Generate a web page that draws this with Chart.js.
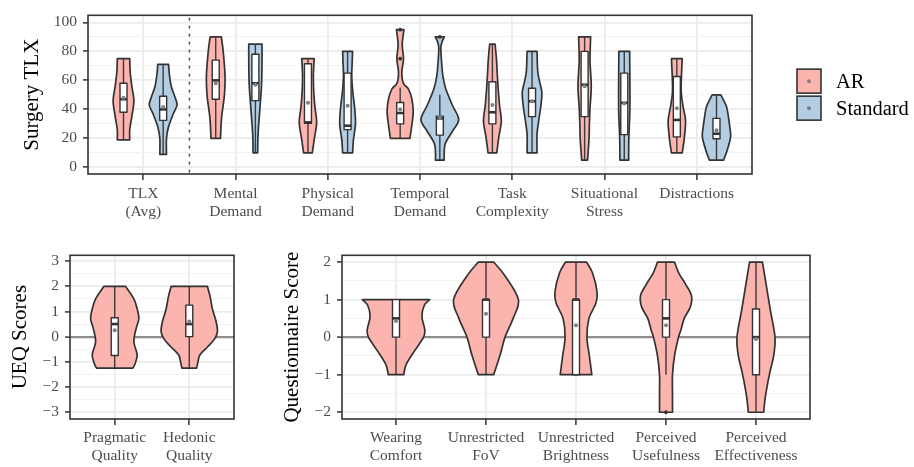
<!DOCTYPE html>
<html>
<head>
<meta charset="utf-8">
<script src="https://cdn.jsdelivr.net/npm/chart.js@4.4.1/dist/chart.umd.min.js"></script>
<style>
  body { margin: 0; background: #fff; width: 914px; height: 467px; position: relative; overflow: hidden; }
  canvas { position: absolute; }
  #tlx { left: 0; top: 0; }
  #ueq { left: 0; top: 240px; }
  #quest { left: 260px; top: 240px; }
</style>
</head>
<body>
<canvas id="tlx" width="914" height="232"></canvas>
<canvas id="ueq" width="250" height="227"></canvas>
<canvas id="quest" width="560" height="227"></canvas>
<script>
// ---------- data ----------
const groups = ["AR", "Standard"];

// Surgery TLX panel
const tlxCategories = [["TLX", "(Avg)"], ["Mental", "Demand"], ["Physical", "Demand"], ["Temporal", "Demand"],
  ["Task", "Complexity"], ["Situational", "Stress"], "Distractions"];
const tlxTicks = [0, 20, 40, 60, 80, 100];
// box stats: [lower whisker, q1, median, q3, upper whisker]
const tlxArBox = [[19, 38, 47, 58, 75], [20, 47, 60, 74, 90], [10, 30.3, 31, 71.5, 75], [20, 30, 37.5, 44.7, 55],
  [10, 30, 38, 59, 85], [5, 35, 57, 80, 90], [10, 21, 32.7, 62.7, 75]];
const tlxStdBox = [[9, 32.4, 40, 49, 71], [10, 46, 58, 78, 85], [10, 26, 28.7, 65, 80], [5, 22.2, 33.8, 35.3, 50],
  [10, 35, 45.6, 54.6, 80], [5, 22.6, 44.5, 65, 80], [5, 19.7, 23.2, 33.8, 50]];
const tlxArMean = [48, 58, 44.5, 40, 43, 56, 40.8];
const tlxStdMean = [41.7, 57, 42.5, 34.5, 45.6, 44, 25.6];
const tlxArOutliers = [[], [], [], [75, 95], [], [], []];
const tlxStdOutliers = [[], [], [], [90], [], [], []];
// violin outlines: [score, relative density]
const tlxArShape = [
  [[19, .30], [26, .30], [35, .40], [46, .50], [56, .40], [66, .32], [75, .30]],
  [[20, .23], [34, .28], [50, .42], [63, .45], [80, .36], [90, .27]],
  [[10, .21], [19, .30], [31, .42], [41, .34], [52, .28], [63, .26], [75, .30]],
  [[20, .47], [30, .57], [38.6, .63], [47.4, .56], [54, .40], [57, .20], [60, .11], [66, .08], [75, .16], [84.6, .10], [95, .18]],
  [[10, .21], [21, .31], [32, .43], [42, .35], [52, .29], [63, .24], [74, .20], [85, .13]],
  [[5, .14], [19, .21], [30, .23], [41, .26], [56, .32], [74, .26], [90, .29]],
  [[10, .26], [19, .35], [32, .42], [42, .30], [52, .21], [62, .22], [75, .26]]
];
const tlxStdShape = [
  [[9, .16], [20, .16], [28, .26], [37, .49], [43, .67], [48, .58], [56, .39], [64, .30], [71, .26]],
  [[10, .11], [23, .13], [41, .22], [55, .29], [63, .31], [75, .32], [85, .32]],
  [[10, .24], [19, .28], [30, .38], [41, .34], [52, .25], [63, .20], [72, .22], [80, .24]],
  [[5, .21], [10, .21], [16.7, .27], [25.4, .63], [33, .91], [43, .60], [54, .29], [62.7, .15], [73.7, .08], [82.5, .05], [86.8, .11], [90, .22]],
  [[10, .24], [23, .24], [32, .32], [43, .43], [52, .47], [60, .35], [67, .27], [80, .24]],
  [[5, .21], [20, .22], [40, .27], [60, .27], [80, .26]],
  [[5, .34], [12, .52], [21, .68], [28, .64], [41, .50], [46, .35], [50, .21]]
];

// UEQ panel
const ueqCategories = [["Pragmatic", "Quality"], ["Hedonic", "Quality"]];
const ueqTicks = [-3, -2, -1, 0, 1, 2, 3];
const ueqBox = [[-1.25, -0.75, 0.5, 0.75, 2], [-1.25, 0, 0.5, 1.25, 2]];
const ueqMean = [0.25, 0.6];
const ueqShape = [
  [[-1.25, .54], [-1.1, .60], [-0.72, .67], [-0.2, .57], [0.33, .64], [0.72, .72], [1.1, .67], [1.5, .57], [2, .32]],
  [[-1.25, .22], [-1.0, .26], [-0.72, .32], [-0.4, .55], [-0.1, .75], [0.2, .84], [0.6, .80], [1.1, .69], [1.6, .62], [2, .54]]
];

// Questionnaire panel
const qCategories = [["Wearing", "Comfort"], ["Unrestricted", "FoV"], ["Unrestricted", "Brightness"],
  ["Perceived", "Usefulness"], ["Perceived", "Effectiveness"]];
const qTicks = [-2, -1, 0, 1, 2];
const qBox = [[-1, 0, 0.5, 1, 1], [-1, 0, 1, 1, 2], [-1, -1, 1, 1, 2], [-1, 0, 0.5, 1, 2], [-2, -1, 0, 0.75, 2]];
const qMean = [0.43, 0.62, 0.32, 0.32, -0.05];
const qOutliers = [[], [], [], [-2], []];
const qShape = [
  [[-1, .19], [-0.73, .25], [-0.38, .45], [0, .68], [0.2, .71], [0.55, .64], [0.85, .70], [1, .83]],
  [[-1, .19], [-0.47, .35], [0, .47], [0.5, .67], [1, .80], [1.63, .47], [2, .19]],
  [[-1, .39], [-0.5, .33], [0, .27], [0.5, .32], [0.9, .49], [1.2, .52], [1.7, .41], [2, .26]],
  [[-2, .16], [-1.5, .16], [-1, .16], [-0.5, .21], [0, .31], [0.2, .37], [0.5, .45], [0.8, .60], [1.1, .63], [1.4, .49], [1.7, .32], [2, .21]],
  [[-2, .19], [-1.6, .23], [-1, .33], [-0.47, .44], [0, .47], [0.75, .35], [1.54, .23], [2, .16]]
];

// ---------- styles ----------
const FONT = "'Liberation Serif', 'DejaVu Serif', serif";
const INK = "#333333";
const TICK_TEXT = "#4d4d4d";
const MEAN_DOT = "#808080";
const COLORS = { AR: "#FBB4AE", Standard: "#B3CDE3" };
const DODGE = 0.215;
const SEPARATOR_AT = 1.5;

Chart.defaults.font.family = FONT;
Chart.defaults.animation = false;
Chart.defaults.responsive = false;
Chart.defaults.events = [];
Chart.defaults.plugins.legend.display = false;
Chart.defaults.plugins.tooltip.enabled = false;

const fmt = v => (v < 0 ? "\u2212" + Math.abs(v) : String(v));

function withMinors(majors) {
  const out = [];
  majors.forEach((v, i) => {
    out.push(v);
    if (i < majors.length - 1) out.push((v + majors[i + 1]) / 2);
  });
  return out;
}

// smooth curve through points (Catmull-Rom)
function spline(ctx, pts) {
  for (let i = 0; i < pts.length - 1; i++) {
    const p0 = pts[i - 1] || pts[i], p1 = pts[i], p2 = pts[i + 1], p3 = pts[i + 2] || p2;
    ctx.bezierCurveTo(
      p1.x + (p2.x - p0.x) / 6, p1.y + (p2.y - p0.y) / 6,
      p2.x - (p3.x - p1.x) / 6, p2.y - (p3.y - p1.y) / 6,
      p2.x, p2.y);
  }
}

function violinLayer(series, halfWidth, separators) {
  return {
    id: "violins",
    beforeDatasetsDraw(chart) {
      const { ctx, chartArea, scales: { x, y } } = chart;
      ctx.save();
      (separators || []).forEach(at => {
        const px = x.getPixelForValue(at);
        ctx.beginPath();
        ctx.setLineDash([1.6, 6.4]);
        ctx.lineCap = "round";
        ctx.strokeStyle = "#555";
        ctx.lineWidth = 1.6;
        ctx.moveTo(px, chartArea.top + 3);
        ctx.lineTo(px, chartArea.bottom);
        ctx.stroke();
        ctx.setLineDash([]);
        ctx.lineCap = "butt";
      });
      series.forEach(s => {
        s.shapes.forEach((shape, i) => {
          const c = i + 1 + s.offset;
          const side = sign => shape.map(([v, d]) => ({
            x: x.getPixelForValue(c + sign * d * halfWidth),
            y: y.getPixelForValue(v)
          }));
          const right = side(1);
          const left = side(-1).reverse();
          ctx.beginPath();
          ctx.moveTo(right[0].x, right[0].y);
          spline(ctx, right);
          ctx.lineTo(left[0].x, left[0].y);
          spline(ctx, left);
          ctx.closePath();
          ctx.fillStyle = s.color;
          ctx.fill();
          ctx.lineWidth = 1.7;
          ctx.strokeStyle = INK;
          ctx.lineJoin = "round";
          ctx.stroke();

          const [lo, q1, med, q3, hi] = s.boxes[i];
          const cx = x.getPixelForValue(c);
          ctx.beginPath();
          ctx.moveTo(cx, y.getPixelForValue(lo));
          ctx.lineTo(cx, y.getPixelForValue(hi));
          ctx.lineWidth = 1.4;
          ctx.strokeStyle = "#3a3a3a";
          ctx.stroke();

          const top = y.getPixelForValue(q3), bot = y.getPixelForValue(q1);
          ctx.fillStyle = "#fff";
          ctx.fillRect(cx - 3.5, top, 7, bot - top);
          ctx.lineWidth = 1.4;
          ctx.strokeStyle = INK;
          ctx.strokeRect(cx - 3.5, top, 7, bot - top);
          const my = y.getPixelForValue(med);
          ctx.beginPath();
          ctx.moveTo(cx - 3.5, my);
          ctx.lineTo(cx + 3.5, my);
          ctx.lineWidth = 2.6;
          ctx.stroke();
        });
      });
      ctx.restore();
    }
  };
}

const frame = {
  id: "frame",
  afterDraw(chart) {
    const { ctx, chartArea: a } = chart;
    ctx.save();
    ctx.strokeStyle = INK;
    ctx.lineWidth = 1.6;
    ctx.strokeRect(a.left, a.top, a.right - a.left, a.bottom - a.top);
    ctx.restore();
  }
};

const legendKeys = {
  id: "legendKeys",
  afterDraw(chart) {
    const { ctx, chartArea: a } = chart;
    const mid = (a.top + a.bottom) / 2;
    ctx.save();
    groups.forEach((g, i) => {
      const kx = a.right + 45, ky = mid - 25.5 + i * 27;
      ctx.fillStyle = COLORS[g];
      ctx.fillRect(kx, ky, 24, 24);
      ctx.strokeStyle = INK;
      ctx.lineWidth = 1.6;
      ctx.strokeRect(kx, ky, 24, 24);
      ctx.beginPath();
      ctx.arc(kx + 12, ky + 12, 2, 0, Math.PI * 2);
      ctx.fillStyle = MEAN_DOT;
      ctx.fill();
      ctx.fillStyle = "#000";
      ctx.font = "20.5px " + FONT;
      ctx.textBaseline = "middle";
      ctx.fillText(g, kx + 39, ky + 13);
    });
    ctx.restore();
  }
};

function panelOptions(p) {
  const yValues = withMinors(p.yTicks);
  return {
    layout: { padding: p.pad },
    scales: {
      x: {
        type: "linear",
        min: 0.4,
        max: p.cats.length + 0.6,
        afterBuildTicks: axis => { axis.ticks = p.cats.map((_, i) => ({ value: i + 1 })); },
        afterFit: axis => { axis.height = p.xHeight; },
        border: { display: false },
        grid: { color: "#EBEBEB", lineWidth: 1.8, tickColor: INK, tickWidth: 1.5, tickLength: 6 },
        ticks: {
          autoSkip: false, maxRotation: 0, padding: p.xPad, color: TICK_TEXT,
          font: { size: 15.5, lineHeight: 1.17 },
          callback: v => p.cats[Math.round(v) - 1]
        }
      },
      y: {
        min: p.yMin,
        max: p.yMax,
        afterBuildTicks: axis => { axis.ticks = yValues.map(v => ({ value: v })); },
        afterFit: axis => { axis.width = p.yWidth; },
        border: { display: false },
        grid: {
          color: c => (p.zero && c.tick.value === 0 ? "#8C8C8C" : p.yTicks.includes(c.tick.value) ? "#EBEBEB" : "#F3F3F3"),
          lineWidth: c => (p.zero && c.tick.value === 0 ? 2.2 : p.yTicks.includes(c.tick.value) ? 1.8 : 1),
          tickColor: c => (p.yTicks.includes(c.tick.value) ? INK : "rgba(0,0,0,0)"),
          tickWidth: 1.5,
          tickLength: 5
        },
        ticks: {
          autoSkip: false, padding: 6, color: TICK_TEXT, font: { size: 15.5 },
          callback: v => (p.yTicks.includes(v) ? fmt(v) : "")
        },
        title: {
          display: true, text: p.title, color: "#000",
          font: { size: 21, lineHeight: 1.2 },
          padding: { top: p.titlePad, bottom: 0 }
        }
      }
    }
  };
}

function meanPoints(means, offset) {
  return means.map((m, i) => ({ x: i + 1 + offset, y: m }));
}
function outlierPoints(list, offset) {
  return list.flatMap((vals, i) => vals.map(v => ({ x: i + 1 + offset, y: v })));
}
const dotStyle = { pointRadius: 2, pointBorderWidth: 0, pointBackgroundColor: MEAN_DOT };
const outlierStyle = { pointRadius: 1.9, pointBorderWidth: 0, pointBackgroundColor: INK };

// ---------- Surgery TLX ----------
new Chart(document.getElementById("tlx"), {
  type: "scatter",
  data: {
    datasets: [
      { label: "AR", data: meanPoints(tlxArMean, -DODGE), ...dotStyle },
      { label: "Standard", data: meanPoints(tlxStdMean, DODGE), ...dotStyle },
      { label: "AR outliers", data: outlierPoints(tlxArOutliers, -DODGE), ...outlierStyle },
      { label: "Standard outliers", data: outlierPoints(tlxStdOutliers, DODGE), ...outlierStyle }
    ]
  },
  options: panelOptions({
    cats: tlxCategories, yTicks: tlxTicks, yMin: -4.6, yMax: 104.9, title: "Surgery TLX",
    pad: { left: 0, top: 7.5, right: 162, bottom: 0 }, yWidth: 88, xHeight: 58, xPad: 4.5, titlePad: 20, zero: false
  }),
  plugins: [
    violinLayer([
      { offset: -DODGE, shapes: tlxArShape, boxes: tlxArBox, color: COLORS.AR },
      { offset: DODGE, shapes: tlxStdShape, boxes: tlxStdBox, color: COLORS.Standard }
    ], 0.225, [SEPARATOR_AT]),
    frame, legendKeys
  ]
});

// ---------- UEQ ----------
new Chart(document.getElementById("ueq"), {
  type: "scatter",
  data: { datasets: [{ label: "AR", data: meanPoints(ueqMean, 0), ...dotStyle }] },
  options: panelOptions({
    cats: ueqCategories, yTicks: ueqTicks, yMin: -3.27, yMax: 3.23, title: "UEQ Scores",
    pad: { left: 0, top: 12, right: 16, bottom: 0 }, yWidth: 70, xHeight: 48, xPad: 4, titlePad: 7.5, zero: true
  }),
  plugins: [violinLayer([{ offset: 0, shapes: ueqShape, boxes: ueqBox, color: COLORS.AR }], 0.45), frame]
});

// ---------- Questionnaire ----------
new Chart(document.getElementById("quest"), {
  type: "scatter",
  data: {
    datasets: [
      { label: "AR", data: meanPoints(qMean, 0), ...dotStyle },
      { label: "AR outliers", data: outlierPoints(qOutliers, 0), ...outlierStyle }
    ]
  },
  options: panelOptions({
    cats: qCategories, yTicks: qTicks, yMin: -2.18, yMax: 2.18, title: "Questionnaire Score",
    pad: { left: 0, top: 12, right: 10, bottom: 0 }, yWidth: 82, xHeight: 48, xPad: 4, titlePad: 20, zero: true
  }),
  plugins: [violinLayer([{ offset: 0, shapes: qShape, boxes: qBox, color: COLORS.AR }], 0.45), frame]
});
</script>
</body>
</html>
